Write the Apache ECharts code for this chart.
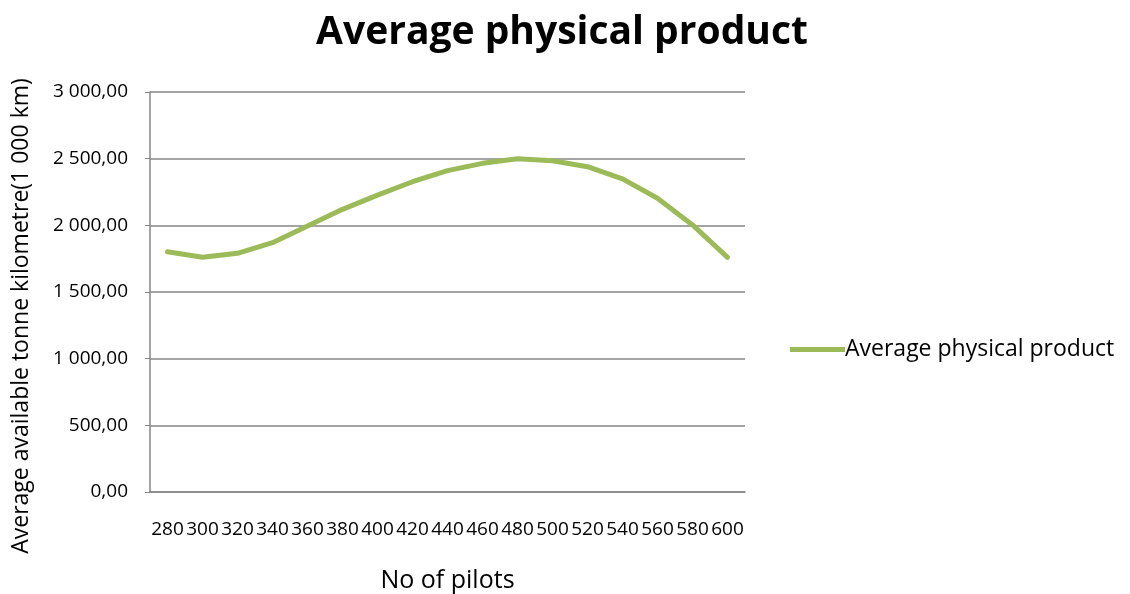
<!DOCTYPE html>
<html>
<head>
<meta charset="utf-8">
<script src="https://cdn.jsdelivr.net/npm/echarts@6/dist/echarts.min.js"></script>
<style>html,body{margin:0;padding:0;background:#fff}#c{width:1130px;height:594px}</style>
</head>
<body>
<div id="c"></div>
<script>
var categories = ['280','300','320','340','360','380','400','420','440','460','480','500','520','540','560','580','600'];
var seriesName = 'Average physical product';
var values = [1802,1760,1790,1870,1995,2120,2227,2327,2410,2465,2500,2485,2440,2348,2203,2003,1760];
var yTicks = [0,500,1000,1500,2000,2500,3000];

function fmt(v){
  var s = v.toFixed(2).split('.');
  var i = s[0].replace(/\B(?=(\d{3})+(?!\d))/g, ' ');
  return i + ',' + s[1];
}
var FONT = 'Open Sans';
var chart = echarts.init(document.getElementById('c'));
chart.setOption({
  animation: false,
  title: {
    text: 'Average physical product',
    left: 557, top: 8, textAlign: 'center',
    textStyle: {fontFamily: FONT, fontWeight: 'bold', fontSize: 39, color: '#000'}
  },
  legend: {
    left: 785, top: 333,
    itemWidth: 55, itemHeight: 5, itemGap: 5,
    icon: 'rect',
    textStyle: {fontFamily: FONT, fontSize: 23, color: '#000', padding: [0,0,0,-5]},
    data: [seriesName]
  },
  grid: {left: 150, right: 385, top: 92, bottom: 102, containLabel: false, outerBoundsMode: 'none'},
  xAxis: {
    type: 'category', data: categories, boundaryGap: true,
    name: 'No of pilots', nameLocation: 'middle', nameGap: 76,
    nameTextStyle: {fontFamily: FONT, fontSize: 25, color: '#000'},
    axisLine: {lineStyle: {color: '#868686', width: 1.5}},
    axisTick: {show: false},
    axisLabel: {fontFamily: FONT, fontSize: 19, color: '#000', margin: 28, interval: 0}
  },
  yAxis: {
    type: 'value', min: 0, max: 3000, interval: 500,
    name: 'Average available tonne kilometre(1 000 km)', nameLocation: 'middle', nameGap: 117,
    nameTextStyle: {fontFamily: FONT, fontSize: 23, color: '#000', padding: [0, 48, 0, 0]},
    axisLine: {show: true, lineStyle: {color: '#868686', width: 1.5}},
    axisTick: {show: true, length: 5, lineStyle: {color: '#868686'}},
    axisLabel: {fontFamily: FONT, fontSize: 19, color: '#000', margin: 22, formatter: fmt},
    splitLine: {lineStyle: {color: '#868686', width: 1.5}}
  },
  series: [{
    name: seriesName, type: 'line', data: values,
    symbol: 'none', smooth: false,
    lineStyle: {color: '#9BBB59', width: 5, join: 'round', cap: 'round'},
    itemStyle: {color: '#9BBB59'}
  }]
});
</script>
</body>
</html>
